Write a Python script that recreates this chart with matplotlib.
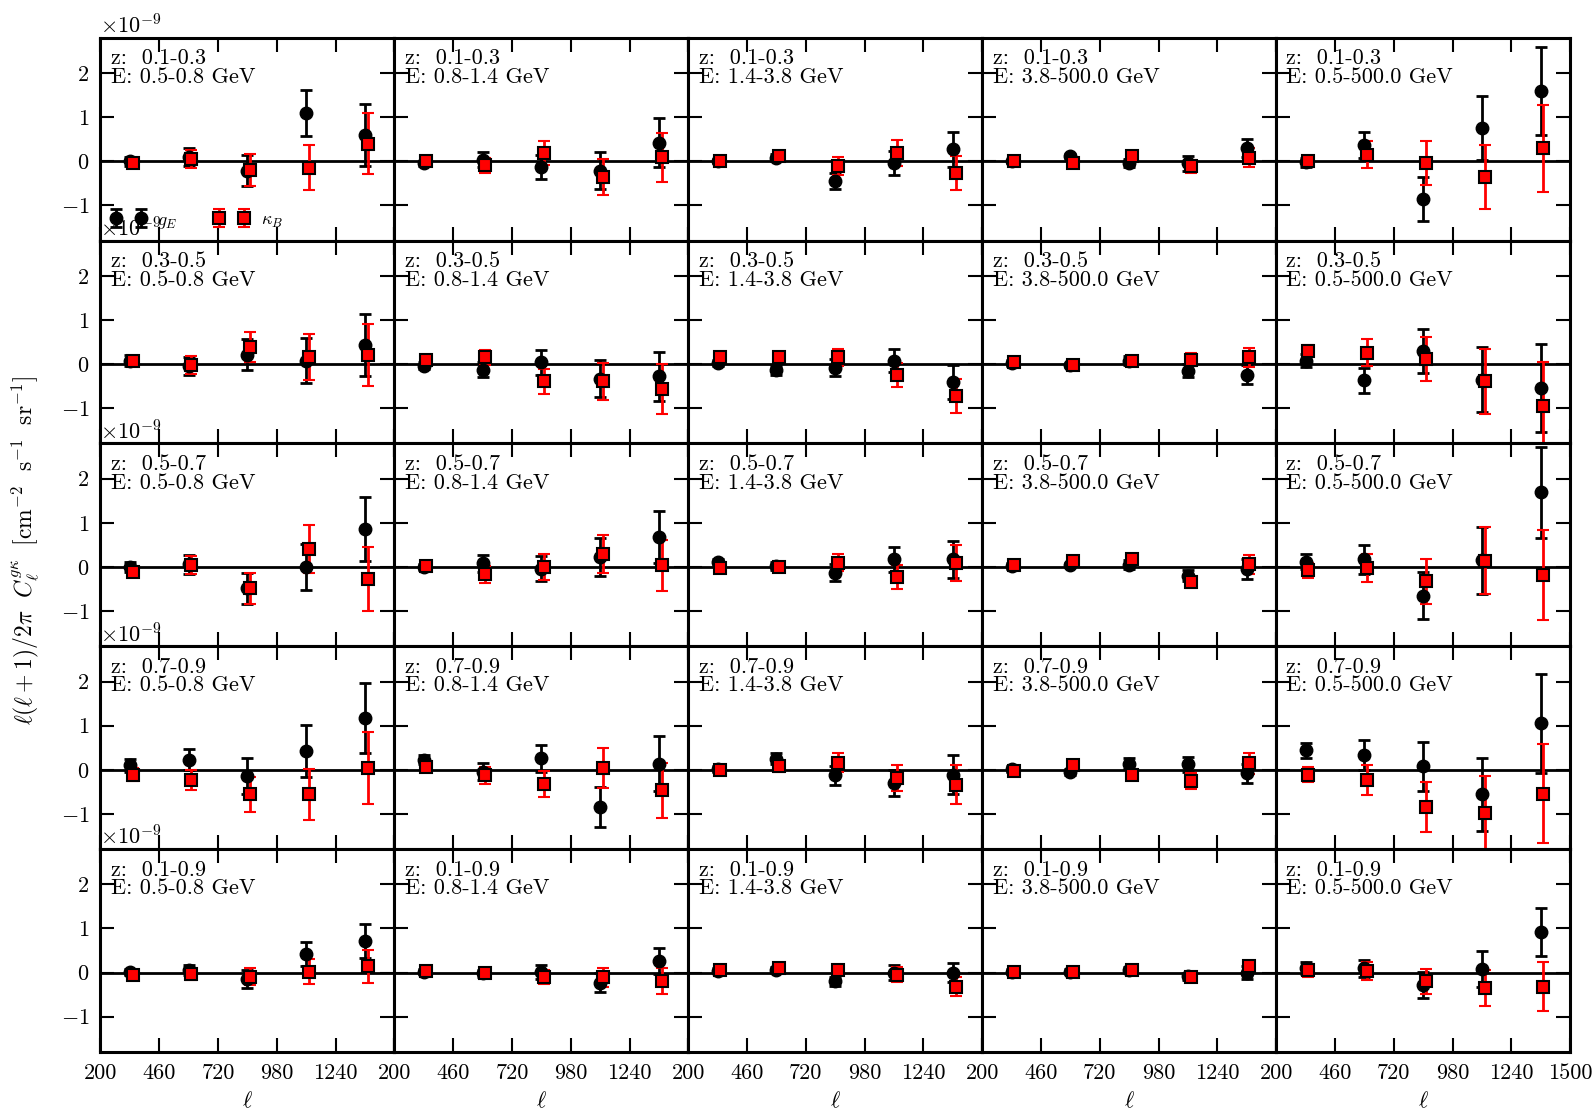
import numpy as np
import matplotlib
matplotlib.use('Agg')
import matplotlib.pyplot as plt

plt.rcParams['font.family'] = ['cmr10', 'DejaVu Serif']
plt.rcParams['mathtext.fontset'] = 'cm'
plt.rcParams['axes.formatter.use_mathtext'] = True
plt.rcParams['font.size'] = 16

# multipole bin centres (200-1500, 5 bins)
ell = np.array([330, 590, 850, 1110, 1370])
ell_shift = 12  # kappa_B points drawn slightly to the right

z_bins = ['0.1-0.3', '0.3-0.5', '0.5-0.7', '0.7-0.9', '0.1-0.9']
e_bins = ['0.5-0.8', '0.8-1.4', '1.4-3.8', '3.8-500.0', '0.5-500.0']

# values in units of 1e-9, [row (z bin)][col (E bin)][ell bin]
gE = [
    [[0.00, 0.10, -0.21, 1.09, 0.60], [-0.05, 0.04, -0.13, -0.21, 0.42], [0.00, 0.08, -0.45, -0.04, 0.27],
     [0.00, 0.12, -0.04, -0.05, 0.30], [-0.02, 0.37, -0.85, 0.76, 1.60]],
    [[0.08, -0.04, 0.21, 0.08, 0.44], [-0.04, -0.13, 0.04, -0.33, -0.28], [0.02, -0.14, -0.08, 0.08, -0.41],
     [0.02, -0.02, 0.08, -0.15, -0.24], [0.08, -0.37, 0.29, -0.35, -0.54]],
    [[0.00, 0.06, -0.48, 0.00, 0.86], [0.00, 0.08, -0.04, 0.23, 0.68], [0.11, 0.02, -0.13, 0.17, 0.17],
     [0.02, 0.05, 0.05, -0.20, -0.05], [0.12, 0.17, -0.65, 0.15, 1.69]],
    [[0.10, 0.23, -0.14, 0.42, 1.17], [0.23, -0.04, 0.26, -0.84, 0.14], [0.02, 0.25, -0.13, -0.30, -0.11],
     [0.02, -0.05, 0.14, 0.12, -0.08], [0.44, 0.34, 0.08, -0.56, 1.05]],
    [[0.02, 0.06, -0.15, 0.42, 0.72], [0.02, -0.02, 0.02, -0.23, 0.26], [0.04, 0.06, -0.20, 0.00, 0.00],
     [0.02, 0.02, 0.06, -0.08, 0.00], [0.10, 0.10, -0.28, 0.08, 0.92]],
]
gE_err = [
    [[0.10, 0.20, 0.35, 0.52, 0.70], [0.05, 0.17, 0.28, 0.41, 0.55], [0.05, 0.08, 0.19, 0.28, 0.39],
     [0.03, 0.05, 0.10, 0.16, 0.21], [0.10, 0.30, 0.50, 0.73, 1.00]],
    [[0.12, 0.20, 0.35, 0.52, 0.70], [0.08, 0.17, 0.28, 0.42, 0.56], [0.07, 0.10, 0.20, 0.27, 0.38],
     [0.07, 0.05, 0.10, 0.15, 0.22], [0.14, 0.28, 0.50, 0.73, 1.00]],
    [[0.12, 0.22, 0.35, 0.53, 0.72], [0.06, 0.20, 0.29, 0.43, 0.58], [0.07, 0.10, 0.20, 0.28, 0.41],
     [0.06, 0.05, 0.10, 0.12, 0.22], [0.17, 0.32, 0.53, 0.76, 1.03]],
    [[0.14, 0.24, 0.40, 0.59, 0.80], [0.10, 0.20, 0.30, 0.46, 0.62], [0.07, 0.12, 0.22, 0.30, 0.45],
     [0.06, 0.07, 0.13, 0.18, 0.22], [0.17, 0.34, 0.56, 0.83, 1.12]],
    [[0.07, 0.12, 0.20, 0.28, 0.38], [0.05, 0.07, 0.16, 0.22, 0.30], [0.06, 0.06, 0.10, 0.17, 0.22],
     [0.05, 0.05, 0.06, 0.08, 0.15], [0.14, 0.19, 0.30, 0.40, 0.55]],
]
kB = [
    [[-0.03, 0.05, -0.19, -0.15, 0.40], [0.00, -0.09, 0.19, -0.36, 0.09], [0.00, 0.11, -0.11, 0.19, -0.27],
     [0.00, -0.04, 0.13, -0.11, 0.08], [0.00, 0.15, -0.03, -0.36, 0.29]],
    [[0.06, -0.02, 0.38, 0.17, 0.21], [0.10, 0.15, -0.39, -0.39, -0.56], [0.17, 0.16, 0.15, -0.24, -0.73],
     [0.04, -0.02, 0.06, 0.10, 0.15], [0.30, 0.26, 0.12, -0.39, -0.95]],
    [[-0.11, 0.05, -0.48, 0.41, -0.28], [0.02, -0.17, 0.00, 0.29, 0.04], [-0.03, 0.00, 0.10, -0.23, 0.08],
     [0.04, 0.13, 0.17, -0.35, 0.06], [-0.08, -0.02, -0.32, 0.14, -0.19]],
    [[-0.11, -0.24, -0.56, -0.56, 0.04], [0.06, -0.13, -0.32, 0.04, -0.47], [0.00, 0.08, 0.16, -0.19, -0.34],
     [-0.02, 0.10, -0.11, -0.26, 0.15], [-0.11, -0.24, -0.84, -0.98, -0.54]],
    [[-0.05, -0.04, -0.09, 0.02, 0.14], [0.04, -0.02, -0.11, -0.11, -0.19], [0.06, 0.10, 0.05, -0.05, -0.32],
     [0.02, 0.02, 0.06, -0.11, 0.14], [0.05, 0.04, -0.20, -0.35, -0.32]],
]
kB_err = [
    [[0.07, 0.21, 0.36, 0.51, 0.70], [0.05, 0.17, 0.28, 0.41, 0.56], [0.04, 0.08, 0.21, 0.29, 0.39],
     [0.03, 0.05, 0.06, 0.15, 0.22], [0.13, 0.30, 0.50, 0.73, 0.99]],
    [[0.10, 0.21, 0.34, 0.52, 0.70], [0.08, 0.16, 0.28, 0.42, 0.57], [0.06, 0.07, 0.20, 0.27, 0.39],
     [0.05, 0.05, 0.08, 0.15, 0.22], [0.14, 0.30, 0.50, 0.74, 1.00]],
    [[0.10, 0.20, 0.35, 0.54, 0.73], [0.06, 0.20, 0.29, 0.43, 0.58], [0.07, 0.10, 0.19, 0.28, 0.41],
     [0.05, 0.07, 0.10, 0.13, 0.22], [0.16, 0.32, 0.51, 0.76, 1.02]],
    [[0.14, 0.23, 0.40, 0.58, 0.81], [0.10, 0.20, 0.30, 0.46, 0.62], [0.07, 0.12, 0.22, 0.30, 0.44],
     [0.05, 0.06, 0.13, 0.18, 0.24], [0.17, 0.34, 0.57, 0.84, 1.13]],
    [[0.07, 0.12, 0.20, 0.28, 0.38], [0.05, 0.07, 0.16, 0.22, 0.30], [0.06, 0.06, 0.10, 0.17, 0.22],
     [0.05, 0.05, 0.06, 0.07, 0.12], [0.14, 0.20, 0.29, 0.40, 0.55]],
]

xticks = np.arange(200, 1501, 260)

fig, axes = plt.subplots(5, 5, sharey=True, figsize=(15.94, 11.12), dpi=100)
fig.subplots_adjust(left=0.063, right=0.985, top=0.966, bottom=0.054, hspace=0, wspace=0)

for i in range(5):
    for j in range(5):
        ax = axes[i, j]
        ax.axhline(0, color='k', lw=2, zorder=1)
        ax.errorbar(ell, np.array(gE[i][j]) * 1e-9, yerr=np.array(gE_err[i][j]) * 1e-9,
                    fmt='o', color='k', ms=9, elinewidth=2, capsize=4, capthick=2, label='$g_E$')
        ax.errorbar(ell + ell_shift, np.array(kB[i][j]) * 1e-9, yerr=np.array(kB_err[i][j]) * 1e-9,
                    fmt='s', color='r', mfc='r', mec='k', mew=1.5, ms=8, ecolor='r',
                    elinewidth=2, capsize=4, capthick=2, label=r'$\kappa_B$')
        ax.text(0.035, 0.945, 'z:  ' + z_bins[i] + '\nE: ' + e_bins[j] + ' GeV',
                transform=ax.transAxes, va='top', ha='left', fontsize=16, linespacing=0.93)
        ax.set_xlim(200, 1500)
        ax.set_ylim(-1.8e-9, 2.8e-9)
        ax.set_yticks([-1e-9, 0, 1e-9, 2e-9])
        ax.set_xticks(xticks)
        ax.tick_params(direction='in', length=10, width=1.5, top=True, right=True,
                       labelsize=16, pad=8)
        ax.yaxis.get_offset_text().set_fontsize(16)
        for sp in ax.spines.values():
            sp.set_linewidth(2.2)
        if i < 4:
            ax.tick_params(labelbottom=False)
        else:
            labs = [str(t) for t in xticks]
            if j < 4:
                labs[-1] = ''
            ax.set_xticklabels(labs)
            ax.set_xlabel(r'$\ell$', fontsize=16, labelpad=6)

axes[0, 0].legend(loc='lower left', numpoints=2, ncol=2, frameon=False, fontsize=13,
                  handlelength=2.0, handletextpad=0.6, columnspacing=2.0, borderaxespad=0.15)

fig.text(0.016, 0.505,
         r'$\ell(\ell+1)/2\pi\ \ C_\ell^{g\kappa}\ \ [\mathrm{cm}^{-2}\ \ \mathrm{s}^{-1}\ \ \mathrm{sr}^{-1}]$',
         rotation=90, va='center', ha='center', fontsize=17)

plt.savefig('out.png', dpi=100)
